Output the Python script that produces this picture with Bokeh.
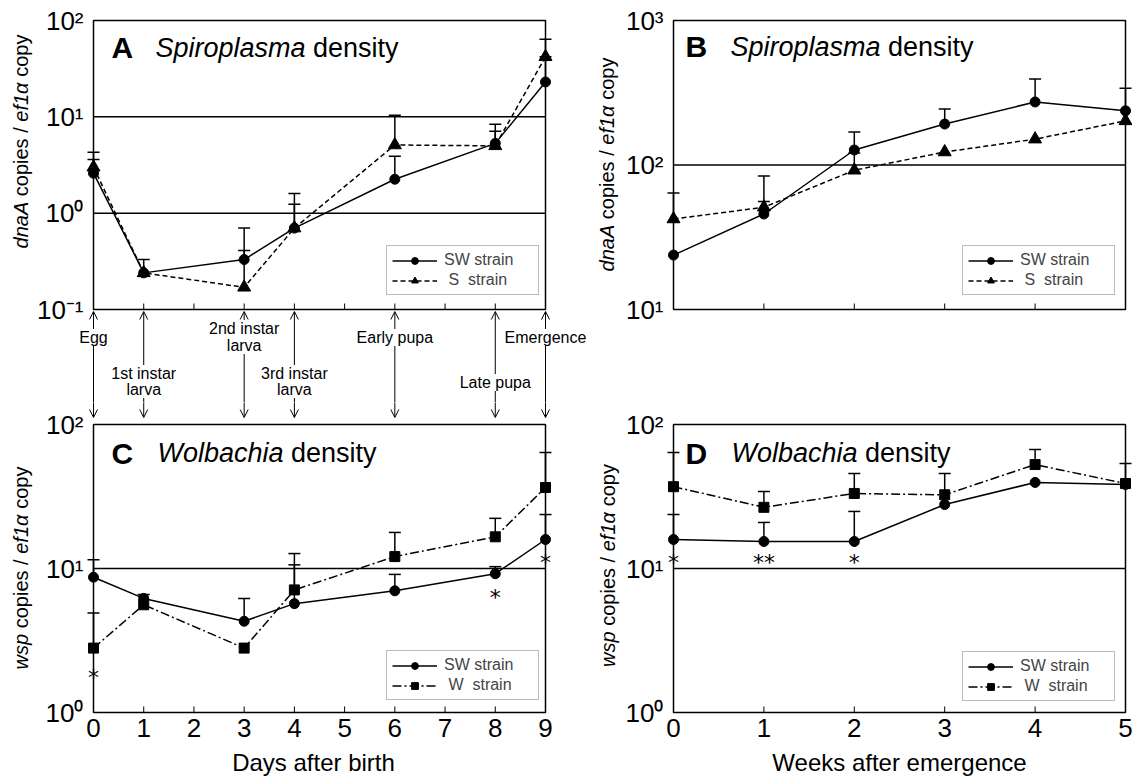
import math
from bokeh.plotting import figure
from bokeh.models import (Range1d, Label, LabelSet, Arrow, OpenHead, TeeHead,
                          Whisker, ColumnDataSource, Legend, LegendItem, BoxAnnotation)
from bokeh.layouts import row, column
from bokeh.embed import file_html
from bokeh.resources import INLINE
from bokeh.core.properties import value

FONT = "Liberation Sans"

# ---------------- data ----------------
days = [0, 1, 3, 4, 6, 8, 9]
weeks = [0, 1, 2, 3, 4, 5]
day_ticks = [0, 1, 2, 3, 4, 5, 6, 7, 8, 9]
week_ticks = [0, 1, 2, 3, 4, 5]

# Panel A: Spiroplasma density (days)
a_sw = [2.6, 0.24, 0.33, 0.70, 2.25, 5.3, 23.0]
a_sw_up = [3.6, 0.33, 0.70, 1.24, 3.9, 7.1, 42.0]
a_s = [3.0, 0.24, 0.17, 0.70, 5.1, 5.0, 42.0]
a_s_up = [4.3, None, 0.41, 1.6, 10.4, 8.4, 64.0]

# Panel B: Spiroplasma density (weeks)
b_sw = [23.8, 45.8, 127.0, 192.0, 273.0, 237.0]
b_sw_up = [None, 84.0, 169.0, 244.0, 394.0, 340.0]
b_s = [42.3, 51.0, 92.0, 123.0, 151.0, 202.0]
b_s_up = [64.0, 56.0, 121.0, None, None, None]

# Panel C: Wolbachia density (days)
c_sw = [8.7, 6.2, 4.3, 5.7, 7.0, 9.2, 15.9]
c_sw_up = [11.5, 6.6, 6.2, 10.6, 9.1, 10.3, 23.7]
c_w = [2.8, 5.6, 2.8, 7.1, 12.1, 16.6, 36.5]
c_w_up = [4.9, None, None, 12.7, 17.8, 22.3, 64.0]

# Panel D: Wolbachia density (weeks)
d_sw = [15.9, 15.4, 15.4, 27.8, 39.6, 38.3]
d_sw_up = [23.7, 20.9, 24.9, None, None, None]
d_w = [37.0, 26.6, 33.2, 32.5, 52.7, 38.9]
d_w_up = [64.0, 34.3, 45.7, 45.7, 67.0, 53.6]

# significance marks
c_star_x = [0, 8, 9]
c_star_y = [1.8, 6.5, 11.4]
c_star_t = ["*", "*", "*"]
d_star_x = [0, 1, 2]
d_star_y = [11.4, 11.4, 11.4]
d_star_t = ["*", "**", "*"]

# developmental stages
stage_days = [0, 1, 3, 4, 6, 8, 9]
stage_names = ["Egg", "1st instar\nlarva", "2nd instar\nlarva", "3rd instar\nlarva",
               "Early pupa", "Late pupa", "Emergence"]

# axis ticks
a_yticks = [0.1, 1, 10, 100]
a_ylabels = ["10\u207b\u00b9", "10\u2070", "10\u00b9", "10\u00b2"]
b_yticks = [10, 100, 1000]
b_ylabels = ["10\u00b9", "10\u00b2", "10\u00b3"]
cd_yticks = [1, 10, 100]
cd_ylabels = ["10\u2070", "10\u00b9", "10\u00b2"]
a_grid = [1, 10]
b_grid = [100]
cd_grid = [10]

# ---------------- layout constants (pixels) ----------------
LEFT_W, RIGHT_W = 590, 542
TOP_H, BOT_H = 402, 376
L_BOX_LEFT, L_BOX_W = 93, 452
R_BOX_LEFT, R_BOX_W = 83, 452
TOP_BOX_TOP, TOP_BOX_H = 20, 289
BOT_BOX_TOP, BOT_BOX_H = 22, 288

CHAR_W = {'a': 556, 'b': 556, 'c': 500, 'd': 556, 'e': 556, 'f': 278, 'h': 556, 'i': 222,
          'l': 222, 'm': 833, 'n': 556, 'o': 556, 'p': 556, 'r': 333, 's': 500, 't': 278,
          'w': 722, 'y': 500, 'A': 667, 'S': 667, 'W': 944, '1': 556, '/': 278, ' ': 278,
          '\u03b1': 579}


def text_w(s, fs):
    return sum(CHAR_W.get(c, 556) for c in s) * fs / 1000.0


def shift_log(v, px, ppd):
    return 10 ** (math.log10(v) + px / ppd)


def make_panel(w, h, xt, ylo, yhi, yticks, ylabels, grid, box_left, box_w,
               box_top, box_h, show_xlabels):
    x0, x1 = xt[0], xt[-1]
    ppx = box_w / float(x1 - x0)
    ppd = box_h / (math.log10(yhi) - math.log10(ylo))
    p = figure(width=w, height=h, title=None,
               x_range=Range1d(x0 - box_left / ppx, x1 + (w - box_left - box_w) / ppx),
               y_range=Range1d(shift_log(ylo, -(h - box_top - box_h), ppd),
                               shift_log(yhi, box_top, ppd)),
               y_axis_type="log", x_axis_location=None, y_axis_location=None,
               output_backend="svg", toolbar_location=None, min_border=0,
               min_border_left=0, min_border_right=0, min_border_top=0,
               min_border_bottom=0)
    p.outline_line_color = None
    p.background_fill_color = "white"
    p.border_fill_color = "white"
    p.grid.visible = False

    # horizontal decade lines and frame box
    n = len(grid)
    p.segment(x0=[x0] * n, y0=grid, x1=[x1] * n, y1=grid, line_color="black", line_width=1.5)
    p.add_layout(BoxAnnotation(left=x0, right=x1, bottom=ylo, top=yhi, fill_color=None,
                               fill_alpha=0, line_color="black", line_alpha=1.0,
                               line_width=1.5))
    # inward x ticks
    m = len(xt)
    p.segment(x0=xt, x1=xt, y0=[ylo] * m, y1=[shift_log(ylo, 6, ppd)] * m,
              line_color="black", line_width=1)
    # y tick labels
    ysrc = ColumnDataSource(dict(x=[x0] * len(yticks), y=yticks, t=ylabels))
    p.add_layout(LabelSet(x="x", y="y", text="t", source=ysrc, x_offset=-10,
                          text_align="right", text_baseline="middle",
                          text_font=value(FONT), text_font_size="26px",
                          text_color="black"))
    if show_xlabels:
        xsrc = ColumnDataSource(dict(x=xt, y=[ylo] * m, t=[str(t) for t in xt]))
        p.add_layout(LabelSet(x="x", y="y", text="t", source=xsrc, y_offset=-6,
                              text_align="center", text_baseline="top",
                              text_font=value(FONT), text_font_size="26px",
                              text_color="black"))
    return p, ppd


def add_series(p, xs, ys, ups, marker, dash, size):
    rl = p.line(xs, ys, line_color="black", line_width=1.5, line_dash=dash)
    rs = p.scatter(xs, ys, marker=marker, size=size, fill_color="black", line_color="black")
    bx = [x for x, u in zip(xs, ups) if u is not None]
    lo = [y for y, u in zip(ys, ups) if u is not None]
    hi = [u for u in ups if u is not None]
    src = ColumnDataSource(dict(base=bx, lower=lo, upper=hi))
    p.add_layout(Whisker(source=src, base="base", lower="lower", upper="upper",
                         dimension="height", line_color="black", line_width=1.5,
                         upper_head=TeeHead(size=12, line_width=1.5, line_color="black"),
                         lower_head=None))
    return [rl, rs]


def add_legend(p, items, vx, vy):
    leg = Legend(items=[LegendItem(label=l, renderers=r) for l, r in items],
                 location=(vx, vy), orientation="vertical",
                 label_text_font=FONT, label_text_font_size="16px",
                 glyph_width=45, glyph_height=17, label_height=17, label_width=89,
                 label_standoff=7, padding=5, spacing=2, margin=0,
                 border_line_color="#777777", border_line_width=1,
                 background_fill_color="white", background_fill_alpha=1.0)
    p.add_layout(leg)


def add_title(p, x0, ytop, letter, word, rest, lx, tx, dy):
    p.add_layout(Label(x=x0, y=ytop, x_offset=lx, y_offset=-dy, text=letter,
                       text_font=FONT, text_font_size="30px", text_font_style="bold",
                       text_baseline="middle", text_color="black"))
    p.add_layout(Label(x=x0, y=ytop, x_offset=tx, y_offset=-dy, text=word,
                       text_font=FONT, text_font_size="27px", text_font_style="italic",
                       text_baseline="middle", text_color="black"))
    p.add_layout(Label(x=x0, y=ytop, x_offset=tx + text_w(word + " ", 27), y_offset=-dy,
                       text=rest, text_font=FONT, text_font_size="27px",
                       text_baseline="middle", text_color="black"))


def add_ylabel(p, x0, ytop, pieces, x_off, center_below, fs=20):
    gap = text_w(" ", fs)
    widths = [text_w(t, fs) for t, _ in pieces]
    total = sum(widths) + gap * (len(pieces) - 1)
    pos = -center_below - total / 2.0
    for (t, it), wd in zip(pieces, widths):
        p.add_layout(Label(x=x0, y=ytop, x_offset=x_off, y_offset=pos, text=t,
                           angle=90, angle_units="deg", text_align="left",
                           text_baseline="middle", text_font=FONT,
                           text_font_size=f"{fs}px",
                           text_font_style="italic" if it else "normal",
                           text_color="black"))
        pos += wd + gap


def add_stars(p, xs, ys, ts):
    src = ColumnDataSource(dict(x=xs, y=ys, t=ts))
    p.add_layout(LabelSet(x="x", y="y", text="t", source=src, text_align="center",
                          text_baseline="middle", y_offset=-2,
                          text_font=value("DejaVu Sans"), text_font_size="22px",
                          text_color="black"))


def add_xtitle(p, xc, ybot, text, dy, dx=0):
    p.add_layout(Label(x=xc, y=ybot, x_offset=dx, y_offset=-dy, text=text,
                       text_align="center", text_baseline="middle",
                       text_font=FONT, text_font_size="24px", text_color="black"))


# ---------------- panels ----------------
pA, A_PPD = make_panel(LEFT_W, TOP_H, day_ticks, 0.1, 100, a_yticks, a_ylabels, a_grid,
                       L_BOX_LEFT, L_BOX_W, TOP_BOX_TOP, TOP_BOX_H, False)
pC, C_PPD = make_panel(LEFT_W, BOT_H, day_ticks, 1, 100, cd_yticks, cd_ylabels, cd_grid,
                       L_BOX_LEFT, L_BOX_W, BOT_BOX_TOP, BOT_BOX_H, True)
pB, B_PPD = make_panel(RIGHT_W, TOP_H, week_ticks, 10, 1000, b_yticks, b_ylabels, b_grid,
                       R_BOX_LEFT, R_BOX_W, TOP_BOX_TOP, TOP_BOX_H, False)
pD, D_PPD = make_panel(RIGHT_W, BOT_H, week_ticks, 1, 100, cd_yticks, cd_ylabels, cd_grid,
                       R_BOX_LEFT, R_BOX_W, BOT_BOX_TOP, BOT_BOX_H, True)

DASH_S = "5 3"
DASH_W = "9 3 2 3"

ra1 = add_series(pA, days, a_sw, a_sw_up, "circle", "solid", 10)
ra2 = add_series(pA, days, a_s, a_s_up, "triangle", DASH_S, 13)
rb1 = add_series(pB, weeks, b_sw, b_sw_up, "circle", "solid", 10)
rb2 = add_series(pB, weeks, b_s, b_s_up, "triangle", DASH_S, 13)
rc1 = add_series(pC, days, c_sw, c_sw_up, "circle", "solid", 10)
rc2 = add_series(pC, days, c_w, c_w_up, "square", DASH_W, 10)
rd1 = add_series(pD, weeks, d_sw, d_sw_up, "circle", "solid", 10)
rd2 = add_series(pD, weeks, d_w, d_w_up, "square", DASH_W, 10)

add_legend(pA, [("SW strain", ra1), ("\u00a0S\u00a0\u00a0strain", ra2)], 386, 107)
add_legend(pB, [("SW strain", rb1), ("\u00a0S\u00a0\u00a0strain", rb2)], 372, 107)
add_legend(pC, [("SW strain", rc1), ("\u00a0W\u00a0\u00a0strain", rc2)], 386, 78)
add_legend(pD, [("SW strain", rd1), ("\u00a0W\u00a0\u00a0strain", rd2)], 372, 77)

add_title(pA, 0, 100, "A", "Spiroplasma", "density", 18, 62, 27)
add_title(pB, 0, 1000, "B", "Spiroplasma", "density", 12, 57, 26)
add_title(pC, 0, 100, "C", "Wolbachia", "density", 18, 64, 28.5)
add_title(pD, 0, 100, "D", "Wolbachia", "density", 12, 58, 28.5)

spiro_lab = [("dnaA", True), ("copies /", False), ("ef1\u03b1", True), ("copy", False)]
wol_lab = [("wsp", True), ("copies /", False), ("ef1\u03b1", True), ("copy", False)]
add_ylabel(pA, 0, 100, spiro_lab, -72.5, 121)
add_ylabel(pB, 0, 1000, spiro_lab, -66.5, 144)
add_ylabel(pC, 0, 100, wol_lab, -72.5, 143.5)
add_ylabel(pD, 0, 100, wol_lab, -66, 141)

add_stars(pC, c_star_x, c_star_y, c_star_t)
add_stars(pD, d_star_x, d_star_y, d_star_t)

add_xtitle(pC, 4.5, 1, "Days after birth", 50, -6)
add_xtitle(pD, 2.5, 1, "Weeks after emergence", 50)

# ---------------- stage arrows between A and C ----------------
label_drop = {0: [28], 1: [64, 80], 3: [19, 36], 4: [64, 80], 6: [28], 8: [73], 9: [28]}
for d, name in zip(stage_days, stage_names):
    pA.add_layout(Arrow(x_start=d, y_start=shift_log(0.1, -2, A_PPD),
                        x_end=d, y_end=shift_log(0.1, -130, A_PPD),
                        start=OpenHead(size=8, line_width=1, line_color="black"), end=None,
                        line_color="black", line_width=1))
    pC.add_layout(Arrow(x_start=d, y_start=shift_log(100, 40, C_PPD),
                        x_end=d, y_end=shift_log(100, 7, C_PPD),
                        start=None, end=OpenHead(size=8, line_width=1, line_color="black"),
                        line_color="black", line_width=1))
    for line, drop in zip(name.split("\n"), label_drop[d]):
        pA.add_layout(Label(x=d, y=0.1, y_offset=-drop, text=line, text_align="center",
                            text_baseline="middle", text_font=FONT, text_font_size="16px",
                            text_color="black", background_fill_color="white"))

layout = row(column(pA, pC), column(pB, pD))
open("out.html", "w").write(file_html(layout, INLINE))
